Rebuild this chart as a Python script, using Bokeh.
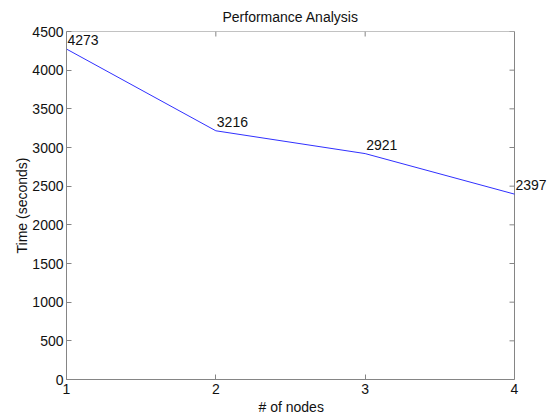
from bokeh.plotting import figure
from bokeh.models import FixedTicker, ColumnDataSource, Range1d, Title
from bokeh.core.properties import value
from bokeh.embed import file_html
from bokeh.resources import INLINE
import math

nodes = [1, 2, 3, 4]
times = [4273, 3216, 2921, 2397]
labels = [str(t) for t in times]
x_ticks = [1, 2, 3, 4]
y_ticks = [0, 500, 1000, 1500, 2000, 2500, 3000, 3500, 4000, 4500]

FONT = "Liberation Sans"
GREY = "#858585"
TXT = "#111111"

# layout: the axes box is 448 px wide; the frame is extended to the right by
# 32 px so the value label of the last point is not clipped.
BOX_PX = 448
EXTRA_PX = 32
x_lo, x_hi = x_ticks[0], x_ticks[-1]
x_end = x_hi + (x_hi - x_lo) * EXTRA_PX / BOX_PX

src = ColumnDataSource(dict(x=nodes, y=times, t=labels))

p = figure(width=547, height=414, output_backend="svg", toolbar_location=None,
           x_range=Range1d(x_lo, x_end), y_range=Range1d(y_ticks[0], y_ticks[-1]),
           title="Performance Analysis",
           min_border_left=66, min_border_right=1, min_border_top=29, min_border_bottom=34)
p.title.align = "left"
p.title.offset = 156
p.title.text_font = FONT
p.title.text_font_style = "normal"
p.title.text_font_size = "14px"
p.title.text_color = TXT
p.title.standoff = 13

p.grid.visible = False
p.outline_line_color = None
p.background_fill_color = "white"
p.border_fill_color = "white"

for ax in (p.xaxis[0], p.yaxis[0]):
    ax.axis_line_color = GREY
    ax.major_tick_line_color = GREY
    ax.major_tick_in = 5
    ax.major_tick_out = 0
    ax.minor_tick_line_color = None
    ax.major_label_text_font = FONT
    ax.major_label_text_font_size = "14px"
    ax.major_label_text_color = TXT
    ax.axis_label_text_font = FONT
    ax.axis_label_text_font_size = "14px"
    ax.axis_label_text_font_style = "normal"
    ax.axis_label_text_color = TXT

p.xaxis.ticker = FixedTicker(ticks=x_ticks)
p.xaxis.bounds = (x_lo, x_hi)
p.yaxis.ticker = FixedTicker(ticks=y_ticks)
p.yaxis.axis_label = "Time (seconds)"
p.xaxis.major_label_standoff = 4
p.yaxis.major_label_standoff = 3
p.yaxis.axis_label_standoff = -1

# x-axis label, centred under the axes box (not the extended frame)
xlab = Title(text="# of nodes", align="left", offset=192, text_font=FONT,
             text_font_size="14px", text_font_style="normal", text_color=TXT,
             standoff=0)
p.add_layout(xlab, "below")

# top and right edges of the axes box, with inward ticks
p.line(x=[x_lo, x_hi, x_hi], y=[y_ticks[-1], y_ticks[-1], y_ticks[0]],
       line_color=GREY, line_width=1)
p.ray(x=[x_hi] * len(y_ticks), y=y_ticks, length=5, length_units="screen",
      angle=math.pi, line_color=GREY, line_width=1)
p.ray(x=x_ticks, y=[y_ticks[-1]] * len(x_ticks), length=5, length_units="screen",
      angle=-math.pi / 2, line_color=GREY, line_width=1)

p.line("x", "y", source=src, line_color="#3030ff", line_width=1)

p.text("x", "y", text="t", source=src, text_font=value(FONT), text_font_size="14px",
       text_align="left", text_baseline="alphabetic", text_color=TXT,
       x_offset=1, y_offset=-9)

open("out.html", "w").write(file_html(p, INLINE))
